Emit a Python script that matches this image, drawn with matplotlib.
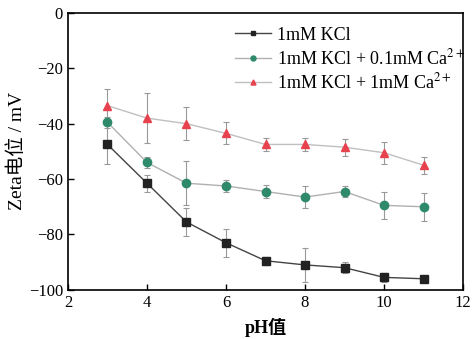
import matplotlib
matplotlib.use('Agg')
import matplotlib.pyplot as plt

plt.rcParams['font.family'] = ['Liberation Serif', 'Noto Sans CJK SC']
plt.rcParams['mathtext.fontset'] = 'stix'

ph = [3, 4, 5, 6, 7, 8, 9, 10, 11]

kcl = [-47.5, -61.5, -75.5, -83, -89.5, -91, -92, -95.5, -96]
kcl_err = [7, 3, 5, 5, 1.5, 6, 2, 1.5, 1]

ca01 = [-39.5, -54, -61.5, -62.5, -64.5, -66.5, -64.5, -69.5, -70]
ca01_err = [2, 2, 8, 2, 2.5, 4, 2, 5, 5]

ca1 = [-33.5, -38, -40, -43.5, -47.5, -47.5, -48.5, -50.5, -55]
ca1_err = [6, 9, 6, 4, 2.5, 2.5, 3, 4, 3]

labels = ['1mM KCl', '1mM KCl + 0.1mM Ca$^{2+}$', '1mM KCl + 1mM Ca$^{2+}$']

fig = plt.figure(figsize=(4.75, 3.39), dpi=100)
ax = fig.add_axes([0.143, 0.145, 0.832, 0.817])

series = [
    (kcl, kcl_err, 's', '#222222', '#444444', labels[0]),
    (ca01, ca01_err, 'o', '#2f8a6c', '#b0b0b0', labels[1]),
    (ca1, ca1_err, '^', '#e8424f', '#c0c0c0', labels[2]),
]
for y, err, mk, c, lc, lab in series:
    ax.errorbar(ph, y, yerr=err, fmt='none', ecolor='#999999', elinewidth=0.8,
                capsize=2, capthick=0.8, zorder=2)
    ax.plot(ph, y, color=lc, lw=1.0, marker=mk, markersize=6,
            markerfacecolor=c, markeredgecolor=c, label=lab, zorder=3)

ax.set_xlim(2, 12)
ax.set_ylim(-100, 0)
ax.set_xticks([2, 4, 6, 8, 10, 12])
ax.set_yticks([0, -20, -40, -60, -80, -100])
ax.tick_params(direction='in', labelsize=12, length=4, width=1)
for s in ax.spines.values():
    s.set_linewidth(1.2)

ax.set_xlabel('pH值', fontsize=13, fontweight='bold', labelpad=5)
ax.set_ylabel('Zeta电位 / mV', fontsize=14, labelpad=2)

ax.legend(loc='upper left', frameon=False, fontsize=13, handlelength=2.0,
          handletextpad=0.3, markerscale=0.6, borderpad=0, borderaxespad=0,
          bbox_to_anchor=(0.423, 0.95), labelspacing=0.25)

fig.savefig('out.png', dpi=100)
